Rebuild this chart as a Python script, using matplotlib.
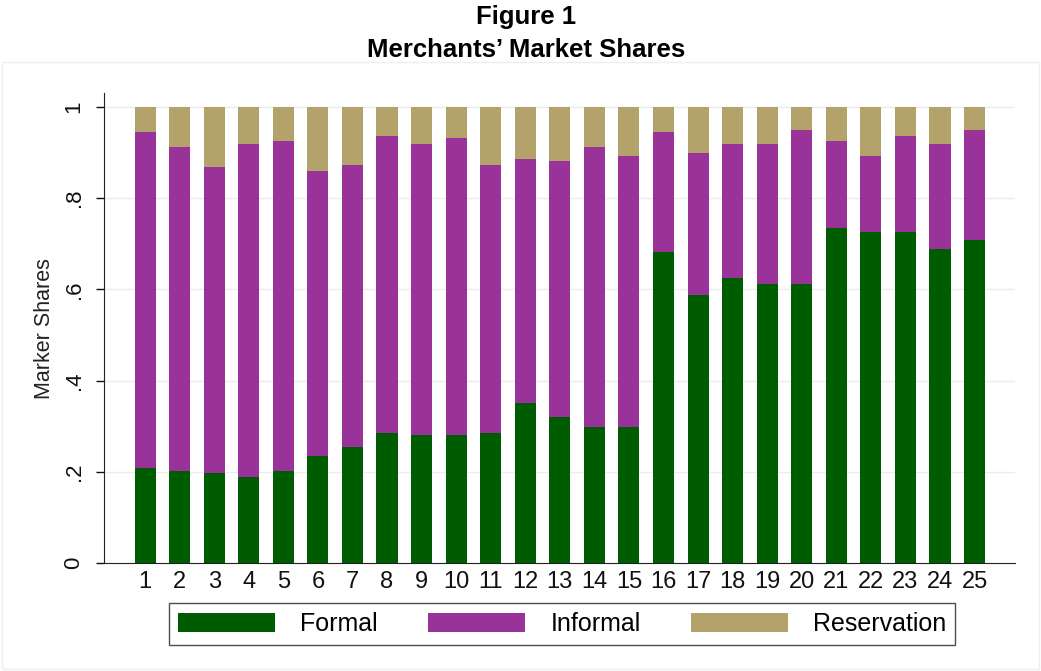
import matplotlib
matplotlib.use("Agg")
import matplotlib.pyplot as plt
import matplotlib.patches as patches
import numpy as np

# shares (25 merchants)
merchants = [str(i) for i in range(1, 26)]
formal = [0.209, 0.202, 0.197, 0.189, 0.202, 0.235, 0.255, 0.286, 0.280, 0.280,
          0.286, 0.350, 0.320, 0.298, 0.298, 0.681, 0.587, 0.624, 0.612, 0.612,
          0.734, 0.726, 0.726, 0.689, 0.708]
informal = [0.735, 0.710, 0.671, 0.729, 0.723, 0.625, 0.618, 0.651, 0.638, 0.651,
            0.587, 0.536, 0.561, 0.614, 0.595, 0.263, 0.313, 0.294, 0.306, 0.338,
            0.191, 0.167, 0.211, 0.229, 0.242]
reservation = [0.056, 0.088, 0.132, 0.082, 0.075, 0.140, 0.127, 0.063, 0.082, 0.069,
               0.127, 0.114, 0.119, 0.088, 0.107, 0.056, 0.100, 0.082, 0.082, 0.050,
               0.075, 0.107, 0.063, 0.082, 0.050]
yticks = [0, 0.2, 0.4, 0.6, 0.8, 1.0]
ytick_labels = ["0", ".2", ".4", ".6", ".8", "1"]

GREEN = "#005c00"
PURPLE = "#9a3399"
TAN = "#b3a26a"

plt.rcParams['font.family'] = ['Liberation Sans', 'DejaVu Sans']

fig = plt.figure(figsize=(10.41, 6.71), dpi=100)
ax = fig.add_axes([0.0999, 0.161, 0.8751, 0.700])

x = np.arange(len(merchants))
f = np.array(formal)
i = np.array(informal)
r = np.array(reservation)
w = 0.61
ax.bar(x, f, w, color=GREEN, label="Formal", zorder=2)
ax.bar(x, i, w, bottom=f, color=PURPLE, label="Informal", zorder=2)
ax.bar(x, r, w, bottom=f + i, color=TAN, label="Reservation", zorder=2)

ax.set_xlim(-1.19, len(merchants) - 1 + 1.17)
ax.set_ylim(0, 1.03)
ax.set_xticks(x)
ax.set_xticklabels(merchants)
ax.set_yticks(yticks)
ax.set_yticklabels(ytick_labels, rotation=90, va="center")
ax.tick_params(axis="x", length=0, pad=6, labelsize=17, colors="#111111")
ax.tick_params(axis="y", length=6, width=1, pad=8, labelsize=16, colors="#111111")
ax.yaxis.grid(True, color="#ececec", linewidth=1, zorder=0)
ax.set_axisbelow(True)

for s in ["top", "right"]:
    ax.spines[s].set_visible(False)
ax.spines["left"].set_color("#222222")
ax.spines["bottom"].set_color("#222222")
ax.set_ylabel("Marker Shares", fontsize=15.5, color="#222222", labelpad=6)

# light outer frame of the graph region
frame = patches.Rectangle((0.002, 0.003), 0.996, 0.905, transform=fig.transFigure,
                          fill=False, edgecolor="#efefef", linewidth=1)
fig.patches.append(frame)

fig.text(0.505, 0.975, "Figure 1", ha="center", va="center", fontsize=18.5,
         fontweight="bold")
fig.text(0.505, 0.925, "Merchants\u2019 Market Shares", ha="center", va="center",
         fontsize=18.5, fontweight="bold")

leg = fig.legend(loc="center", bbox_to_anchor=(0.54, 0.070), ncol=3,
                 fontsize=18, frameon=True, fancybox=False, edgecolor="#222222",
                 handlelength=3.9, handleheight=0.8, handletextpad=1.0,
                 columnspacing=2.0, borderpad=0.35)
leg.get_frame().set_linewidth(1)

plt.savefig("out.png", dpi=100)
